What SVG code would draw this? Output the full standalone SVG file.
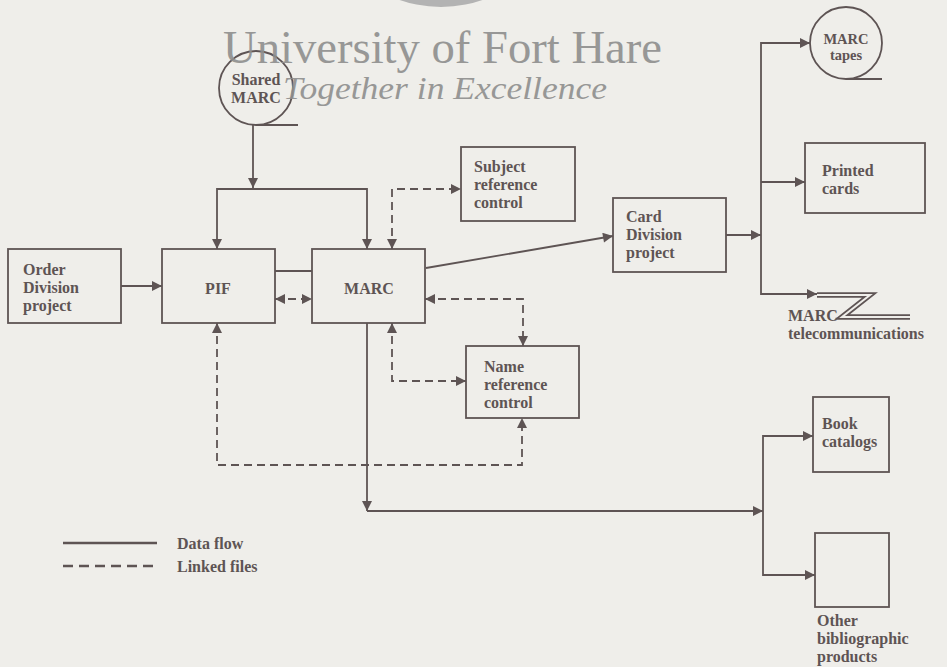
<svg xmlns="http://www.w3.org/2000/svg" width="947" height="667" viewBox="0 0 947 667">
<defs>
<style>
.bg{fill:#efeeea}
.box{fill:none;stroke:#5e5454;stroke-width:1.8}
.t{font-family:"Liberation Serif","Times New Roman",serif;font-size:16px;font-weight:bold;fill:#5e5454}
.tc{text-anchor:middle}
.s{font-size:14.5px}
.ln{fill:none;stroke:#5e5454;stroke-width:1.8}
.d{stroke-dasharray:8 5}
.wm{font-family:"Liberation Serif","Times New Roman",serif;fill:#8e8e8e;opacity:0.9}
</style>
<marker id="ah" viewBox="0 0 10 10" refX="10" refY="5" markerWidth="11" markerHeight="10" markerUnits="userSpaceOnUse" orient="auto-start-reverse">
<path d="M0,0 L10,5 L0,10 z" fill="#5e5454"/>
</marker>
</defs>
<rect class="bg" x="0" y="0" width="947" height="667"/>
<circle cx="441" cy="-119" r="126" fill="#b3b3b3"/>

<g id="shared-marc">
<circle class="box" cx="256" cy="88" r="37"/>
<line class="ln" x1="256" y1="125" x2="298" y2="125"/>
<text class="t tc" x="256" y="85">Shared</text>
<text class="t tc" x="256" y="103">MARC</text>
</g>
<g id="order-division">
<rect class="box" x="8" y="249" width="113" height="74"/>
<text class="t" x="23" y="275">Order</text>
<text class="t" x="23" y="293">Division</text>
<text class="t" x="23" y="311">project</text>
</g>
<g id="pif">
<rect class="box" x="162" y="249" width="113" height="74"/>
<text class="t tc" x="218" y="294">PIF</text>
</g>
<g id="marc">
<rect class="box" x="312" y="249" width="113" height="74"/>
<text class="t tc" x="369" y="294">MARC</text>
</g>
<g id="subject-ref">
<rect class="box" x="461" y="147" width="114" height="74"/>
<text class="t" x="474" y="172">Subject</text>
<text class="t" x="474" y="190">reference</text>
<text class="t" x="474" y="208">control</text>
</g>
<g id="name-ref">
<rect class="box" x="466" y="346" width="113" height="72"/>
<text class="t" x="484" y="372">Name</text>
<text class="t" x="484" y="390">reference</text>
<text class="t" x="484" y="408">control</text>
</g>
<g id="card-division">
<rect class="box" x="613" y="198" width="113" height="74"/>
<text class="t" x="626" y="222">Card</text>
<text class="t" x="626" y="240">Division</text>
<text class="t" x="626" y="258">project</text>
</g>
<g id="marc-tapes">
<circle class="box" cx="846" cy="43" r="36"/>
<line class="ln" x1="846" y1="79" x2="882" y2="79"/>
<text class="t tc s" x="846" y="44">MARC</text>
<text class="t tc s" x="846" y="60">tapes</text>
</g>
<g id="printed-cards">
<rect class="box" x="805" y="143" width="120" height="70"/>
<text class="t" x="822" y="176">Printed</text>
<text class="t" x="822" y="194">cards</text>
</g>
<g id="marc-telecom">
<path d="M817,295 H870 L842,317 H910" fill="none" stroke="#5e5454" stroke-width="5.5" stroke-linejoin="miter"/>
<path d="M817,295 H870 L842,317 H912" fill="none" stroke="#efeeea" stroke-width="2" stroke-linejoin="miter"/>
<text class="t" x="788" y="321">MARC</text>
<text class="t" x="788" y="339">telecommunications</text>
</g>
<g id="book-catalogs">
<rect class="box" x="813" y="397" width="76" height="75"/>
<text class="t" x="822" y="429">Book</text>
<text class="t" x="822" y="447">catalogs</text>
</g>
<g id="other-products">
<rect class="box" x="815" y="533" width="74" height="74"/>
<text class="t" x="817" y="626">Other</text>
<text class="t" x="817" y="644">bibliographic</text>
<text class="t" x="817" y="662">products</text>
</g>

<g id="connectors">
<path class="ln" d="M253,125 V188" marker-end="url(#ah)"/>
<path class="ln" d="M217,249 V189 H367 V249" marker-start="url(#ah)" marker-end="url(#ah)"/>
<path class="ln" d="M121,286 H162" marker-end="url(#ah)"/>
<path class="ln" d="M275,271 H312"/>
<path class="ln d" d="M275,299 H312" marker-start="url(#ah)" marker-end="url(#ah)"/>
<path class="ln" d="M426,268 L613,236" marker-end="url(#ah)"/>
<path class="ln" d="M726,235 H761" marker-end="url(#ah)"/>
<path class="ln" d="M810,43 H761 V294 H817" marker-start="url(#ah)" marker-end="url(#ah)"/>
<path class="ln" d="M761,182 H805" marker-end="url(#ah)"/>
<path class="ln" d="M367,323 V511" marker-end="url(#ah)"/>
<path class="ln" d="M367,511 H763" marker-end="url(#ah)"/>
<path class="ln" d="M813,436 H763 V575 H815" marker-start="url(#ah)" marker-end="url(#ah)"/>
<path class="ln d" d="M392,249 V189 H461" marker-start="url(#ah)" marker-end="url(#ah)"/>
<path class="ln d" d="M425,299 H523 V346" marker-start="url(#ah)" marker-end="url(#ah)"/>
<path class="ln d" d="M392,323 V381 H466" marker-start="url(#ah)" marker-end="url(#ah)"/>
<path class="ln d" d="M217,323 V465 H522 V418" marker-start="url(#ah)" marker-end="url(#ah)"/>
</g>

<g id="legend">
<line x1="63" y1="543" x2="157" y2="543" stroke="#5e5454" stroke-width="2.6"/>
<line x1="63" y1="566" x2="157" y2="566" stroke="#5e5454" stroke-width="2.6" stroke-dasharray="10 6"/>
<text class="t" x="177" y="549">Data flow</text>
<text class="t" x="177" y="572">Linked files</text>
</g>

<g id="watermark">
<text class="wm" x="223" y="63" font-size="46" textLength="439" lengthAdjust="spacingAndGlyphs">University of Fort Hare</text>
<text class="wm" x="283" y="99" font-size="31" font-style="italic" textLength="324" lengthAdjust="spacingAndGlyphs">Together in Excellence</text>
</g>
</svg>
